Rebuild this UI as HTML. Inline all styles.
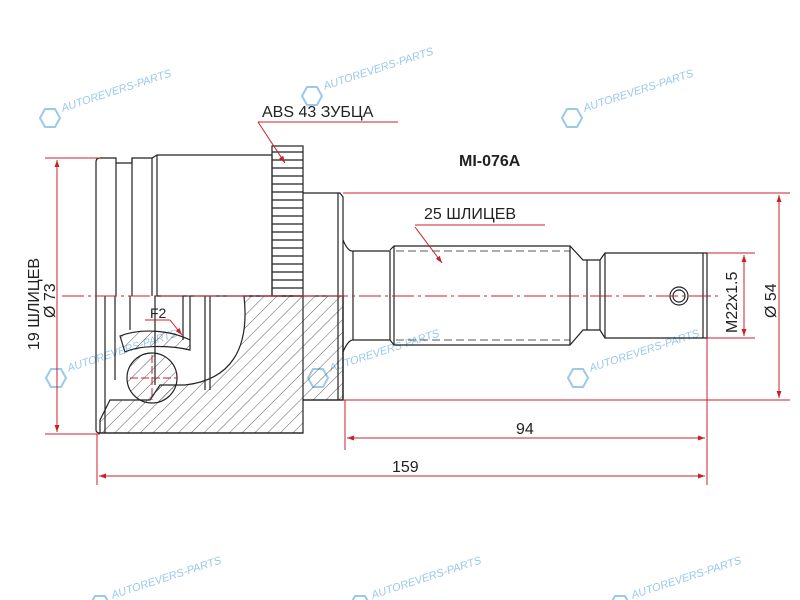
<!DOCTYPE html>
<html><head><meta charset="utf-8"><style>body{margin:0;background:#fff}svg{display:block}</style></head><body>
<svg width="800" height="600" viewBox="0 0 800 600" xmlns="http://www.w3.org/2000/svg" font-family="Liberation Sans, sans-serif">
<defs>
<pattern id="h" patternUnits="userSpaceOnUse" width="9" height="9" patternTransform="rotate(45)">
<line x1="0" y1="0" x2="0" y2="9" stroke="#333" stroke-width="0.8"/></pattern>
<marker id="a" viewBox="0 0 10 10" refX="10" refY="5" markerWidth="9" markerHeight="7" orient="auto-start-reverse"><path d="M0,1.5 L10,5 L0,8.5z" fill="#c8202a"/></marker>
<g id="wm" fill="none" stroke="#8fc3e8" stroke-width="2">
<path d="M-10,0 L-5,-9 L5,-9 L10,0 L5,9 L-5,9z"/><text x="14" y="-2" fill="#8fc3e8" stroke="none" font-size="11" font-style="italic" transform="rotate(-18)">AUTOREVERS-PARTS</text>
</g>
</defs>
<g opacity="0.9">
<use href="#wm" x="50" y="118"/><use href="#wm" x="312" y="96"/><use href="#wm" x="572" y="118"/>
<use href="#wm" x="56" y="378"/><use href="#wm" x="318" y="378"/><use href="#wm" x="578" y="378"/>
<use href="#wm" x="100" y="605"/><use href="#wm" x="360" y="605"/><use href="#wm" x="620" y="605"/>
</g>
<g fill="none" stroke="#222" stroke-width="1.2">
<!-- lower hatched section -->
<path d="M155,296 L303,296 L303,400 L343,400 L343,296" fill="none"/>
<path d="M244,296 C250,350 230,380 185,385 L160,385 L150,400 L110,400 L100,420 L100,433 L303,433 L303,400 L343,400 L343,296 L303,296 Z" fill="url(#h)"/>
<path d="M120,336 C140,328 170,330 190,340 L190,350 C170,345 140,345 125,352 Z" fill="url(#h)"/>
<circle cx="152" cy="378" r="25" fill="url(#h)"/>
<path d="M105,296 L105,433 M115,296 L115,380 M130,296 L130,330 M155,296 L155,385 M183,296 L183,340 M190,296 L190,340 M205,296 L205,390 M210,296 L210,390"/>
<path d="M96,162 Q96,158 100,158 L116,158 L116,163 L132,163 L132,158 L152,158 L157,155 L272,155 L272,296 M96,162 L96,430 Q96,433 100,433 L303,433"/>
<path d="M116,163 L116,296 M132,158 L132,296 M152,158 L152,296 M157,155 L157,296"/>
<!-- ABS ring -->
<rect x="272" y="146" width="31" height="150"/>
<path d="M272,152h31M272,160h31M272,168h31M272,176h31M272,184h31M272,192h31M272,200h31M272,208h31M272,216h31M272,224h31M272,232h31M272,240h31M272,248h31M272,256h31M272,264h31M272,272h31M272,280h31M272,288h31"/>
<path d="M303,193 L340,193 L343,197 L343,400 M338,193 L338,400"/>
<!-- shaft -->
<path d="M343,240 Q348,252 353,251 L390,251 L390,340 L353,340 Q348,340 343,352"/>
<path d="M353,251 L353,340"/>
<path d="M390,250 L394,246 L570,246 L583,260 L600,260 L605,253 L707,253 L707,338 L605,338 L600,330 L583,330 L570,345 L394,345 L390,340"/>
<path d="M394,246 L394,345 M570,246 L570,345 M587,260 L587,330 M600,260 L600,330 M605,253 L605,338 M703,253 L703,338"/>
<path d="M396,251 L570,251 M396,340 L570,340" stroke-dasharray="8 4" stroke-width="0.8"/>
<circle cx="679" cy="296" r="9"/><circle cx="679" cy="296" r="6"/>
</g>
<g stroke="#c8202a" stroke-width="1" fill="none">
<path d="M62,296 L720,296" stroke-dasharray="22 4 3 4"/>
<path d="M152,355 L152,400 M130,378 L178,378" stroke-dasharray="8 3"/>
<path d="M45,158 L100,158 M45,434 L100,434"/>
<line x1="57" y1="160" x2="57" y2="432" marker-start="url(#a)" marker-end="url(#a)"/>
<path d="M343,193 L790,193 M343,400 L790,400 M707,253 L755,253 M707,338 L755,338"/>
<line x1="779" y1="195" x2="779" y2="398" marker-start="url(#a)" marker-end="url(#a)"/>
<line x1="744" y1="255" x2="744" y2="336" marker-start="url(#a)" marker-end="url(#a)"/>
<path d="M345,400 L345,450 M707,338 L707,485 M97,434 L97,485"/>
<line x1="347" y1="438" x2="705" y2="438" marker-start="url(#a)" marker-end="url(#a)"/>
<line x1="99" y1="476" x2="705" y2="476" marker-start="url(#a)" marker-end="url(#a)"/>
<path d="M258,122 L398,122"/><line x1="258" y1="122" x2="285" y2="163" marker-end="url(#a)"/>
<path d="M415,225 L545,225"/><line x1="415" y1="227" x2="442" y2="263" marker-end="url(#a)"/>
<path d="M145,320 L170,320"/><line x1="170" y1="320" x2="182" y2="335" marker-end="url(#a)"/>
</g>
<g fill="#222" font-size="16">
<text x="262" y="117">ABS 43 ЗУБЦА</text>
<text x="424" y="219">25 ШЛИЦЕВ</text>
<text x="459" y="166" font-weight="bold" font-size="16">MI-076A</text>
<text x="516" y="434">94</text>
<text x="392" y="472">159</text>
<text x="150" y="318" font-size="14">F2</text>
<text transform="translate(39,350) rotate(-90)">19 ШЛИЦЕВ</text>
<text transform="translate(55,318) rotate(-90)">Ø 73</text>
<text transform="translate(737,333) rotate(-90)">M22x1.5</text>
<text transform="translate(776,318) rotate(-90)">Ø 54</text>
</g>
</svg>
</body></html>
